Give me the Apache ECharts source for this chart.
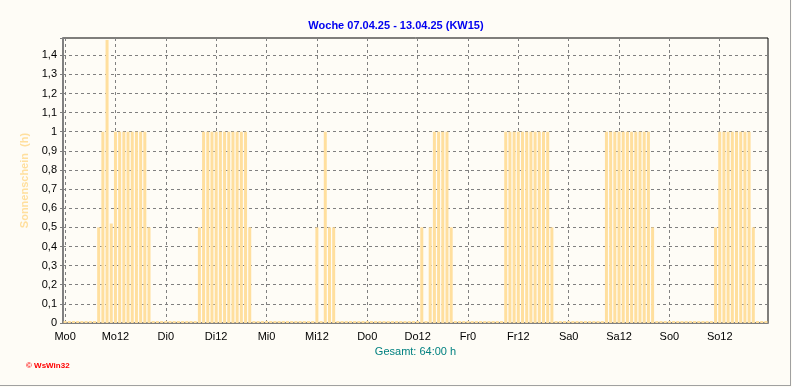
<!DOCTYPE html>
<html>
<head>
<meta charset="utf-8">
<script src="https://cdn.jsdelivr.net/npm/echarts@6/dist/echarts.min.js"></script>
<style>
  html, body { margin: 0; padding: 0; background: #FEFCF6; }
  #chart { position: absolute; left: 0; top: 0; width: 792px; height: 387px; }
  #frame {
    position: absolute; left: 0; top: 0; width: 791px; height: 386px;
    box-sizing: border-box; border-right: 1px solid #A0A0A0; border-bottom: 1px solid #A0A0A0;
    pointer-events: none;
  }
</style>
</head>
<body>
<div id="chart"></div>
<div id="frame"></div>
<script>
// Sonnenschein je Stunde (h), Woche 07.04.25 - 13.04.25
const dayNames = ['Mo', 'Di', 'Mi', 'Do', 'Fr', 'Sa', 'So']
const mo = [0, 0, 0, 0, 0, 0, 0, 0, 0.5, 1, 1.48, 0.52, 1, 1, 1, 1, 1, 1, 1, 1, 0.5, 0, 0, 0]
const di = [0, 0, 0, 0, 0, 0, 0, 0, 0.5, 1, 1, 1, 1, 1, 1, 1, 1, 1, 1, 1, 0.5, 0, 0, 0]
const mi = [0, 0, 0, 0, 0, 0, 0, 0, 0, 0, 0, 0, 0.5, 0, 1, 0.5, 0.5, 0, 0, 0, 0, 0, 0, 0]
const don = [0, 0, 0, 0, 0, 0, 0, 0, 0, 0, 0, 0, 0, 0.5, 0, 0.5, 1, 1, 1, 1, 0.5, 0, 0, 0]
const fr = [0, 0, 0, 0, 0, 0, 0, 0, 0, 1, 1, 1, 1, 1, 1, 1, 1, 1, 1, 1, 0.5, 0, 0, 0]
const sa = [0, 0, 0, 0, 0, 0, 0, 0, 0, 1, 1, 1, 1, 1, 1, 1, 1, 1, 1, 1, 0.5, 0, 0, 0]
const so = [0, 0, 0, 0, 0, 0, 0, 0, 0, 0, 0, 0.5, 1, 1, 1, 1, 1, 1, 1, 1, 0.5, 0, 0, 0]
const sunHours = [].concat(mo, di, mi, don, fr, sa, so)

const titleText = 'Woche 07.04.25 - 13.04.25 (KW15)'
const totalText = 'Gesamt: 64:00 h'

const hourLabels = sunHours.map((v, i) => dayNames[Math.floor(i / 24)] + (i % 24))

const font = "'Liberation Sans', Arial, sans-serif"
const sunColor = '#FFDF9E'

const chart = echarts.init(document.getElementById('chart'))

chart.setOption({
  animation: false,
  backgroundColor: '#FEFCF6',
  textStyle: { fontFamily: font },
  title: {
    text: titleText,
    left: 'center',
    top: 15,
    textStyle: { color: '#0000F0', fontSize: 11, fontWeight: 'bold', fontFamily: font }
  },
  graphic: [
    {
      type: 'text',
      left: 26,
      top: 362,
      style: { text: '\u00A9 WsWin32', fill: '#FF0000', font: 'bold 8px ' + font }
    }
  ],
  grid: {
    left: 63, right: 24, top: 38, bottom: 64,
    show: true, borderColor: '#000', borderWidth: 1, backgroundColor: 'transparent'
  },
  xAxis: {
    type: 'category',
    data: hourLabels,
    boundaryGap: true,
    name: totalText,
    nameLocation: 'middle',
    nameGap: 23,
    nameTextStyle: { color: '#008080', fontSize: 11, fontFamily: font },
    axisLine: { lineStyle: { color: '#808080', width: 2 } },
    axisTick: { interval: 2, alignWithLabel: true, length: 3, lineStyle: { color: '#808080' } },
    axisLabel: { interval: 11, color: '#000', fontSize: 11, margin: 8, fontFamily: font },
    splitLine: {
      show: true, interval: 11, alignWithLabel: true,
      lineStyle: { color: '#808080', type: [3, 3], width: 1 }
    }
  },
  yAxis: {
    type: 'value',
    min: 0,
    max: 1.49,
    interval: 0.1,
    name: 'Sonnenschein  (h)',
    nameLocation: 'middle',
    nameGap: 25,
    nameRotate: 90,
    nameTextStyle: { color: sunColor, fontSize: 11, fontWeight: 'bold', fontFamily: font },
    axisLine: { show: true, lineStyle: { color: '#808080', width: 2 } },
    axisTick: { show: true, length: 3, lineStyle: { color: '#808080' } },
    axisLabel: {
      color: '#000', fontSize: 11, margin: 6, fontFamily: font,
      formatter: v => {
        const t = Math.round(v * 10)
        if (Math.abs(v * 10 - t) > 1e-6) return ''
        return String(t / 10).replace('.', ',')
      }
    },
    splitLine: {
      show: true, showMaxLine: false,
      lineStyle: { color: '#808080', type: [3, 3], width: 1 }
    }
  },
  series: [
    {
      name: 'Sonnenschein',
      type: 'bar',
      data: sunHours,
      barWidth: 3,
      barMinHeight: 2,
      itemStyle: { color: sunColor }
    }
  ]
})
</script>
</body>
</html>
